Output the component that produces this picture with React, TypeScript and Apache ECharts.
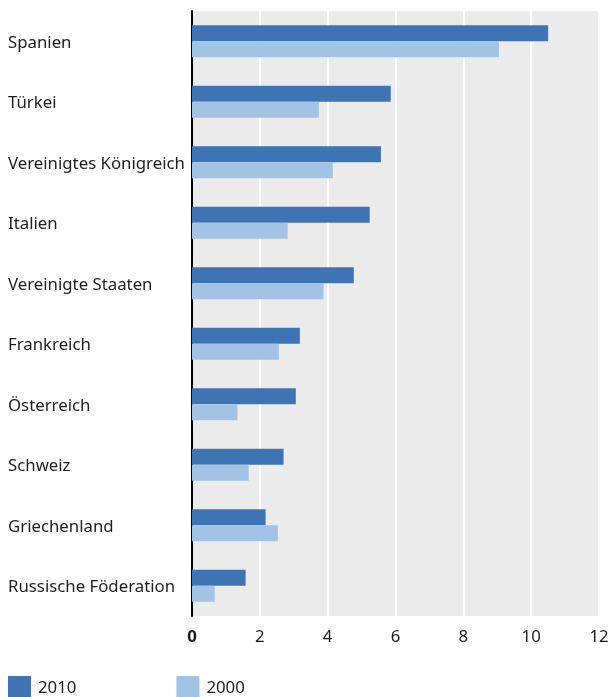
import React, { useEffect, useRef } from "react";
import * as echarts from "echarts";

const categories = [
  "Spanien",
  "Türkei",
  "Vereinigtes Königreich",
  "Italien",
  "Vereinigte Staaten",
  "Frankreich",
  "Österreich",
  "Schweiz",
  "Griechenland",
  "Russische Föderation",
];
const values2010 = [10.5, 5.86, 5.57, 5.24, 4.77, 3.18, 3.06, 2.7, 2.17, 1.58];
const values2000 = [9.05, 3.74, 4.15, 2.82, 3.88, 2.56, 1.34, 1.67, 2.53, 0.67];
const xTicks = { min: 0, max: 12, interval: 2 };

const FONT = "Noto Sans";
const FS = 16.8;
const TXT = "#1e1e1e";

export default function App() {
  const ref = useRef<HTMLDivElement>(null);
  useEffect(() => {
    if (!ref.current) return;
    const chart = echarts.init(ref.current, null, { renderer: "svg" });
    chart.setOption({
      animation: false,
      textStyle: { fontFamily: FONT },
      grid: {
        left: 192,
        right: 13,
        top: 11,
        bottom: 81,
        show: true,
        backgroundColor: "#ebebeb",
        borderWidth: 0,
      },
      legend: {
        left: 8,
        bottom: 0,
        padding: 0,
        itemWidth: 23,
        itemHeight: 21,
        itemGap: 100,
        itemStyle: { borderWidth: 0 },
        icon: "rect",
        textStyle: {
          fontSize: FS,
          color: TXT,
          fontFamily: FONT,
          padding: [0, 0, 0, 2],
        },
        data: ["2010", "2000"],
      },
      xAxis: {
        type: "value",
        min: xTicks.min,
        max: xTicks.max,
        interval: xTicks.interval,
        axisLine: { show: false },
        axisTick: { show: false },
        axisLabel: {
          fontSize: FS,
          color: TXT,
          margin: 11,
          fontFamily: FONT,
          formatter: (v: number) => (v === 0 ? "{b|0}" : String(v)),
          rich: {
            b: { fontSize: FS, fontWeight: "bold", color: TXT, fontFamily: FONT },
          },
        },
        splitLine: { show: true, lineStyle: { color: "#ffffff", width: 2 } },
      },
      yAxis: {
        type: "category",
        inverse: true,
        data: categories,
        axisLine: { show: true, lineStyle: { color: "#000", width: 2 } },
        axisTick: { show: false },
        axisLabel: {
          fontSize: FS,
          color: TXT,
          align: "left",
          margin: 184,
          padding: [0, 0, 4, 0],
          fontFamily: FONT,
        },
      },
      series: [
        {
          name: "2010",
          type: "bar",
          data: values2010,
          barWidth: 16,
          barGap: "0%",
          itemStyle: { color: "#3e73b4" },
        },
        {
          name: "2000",
          type: "bar",
          data: values2000,
          barWidth: 16,
          barGap: "0%",
          itemStyle: { color: "#a2c3e4" },
        },
      ],
    });
    return () => chart.dispose();
  }, []);
  return (
    <div
      ref={ref}
      style={{ position: "fixed", left: 0, top: 0, width: 612, height: 697 }}
    />
  );
}
